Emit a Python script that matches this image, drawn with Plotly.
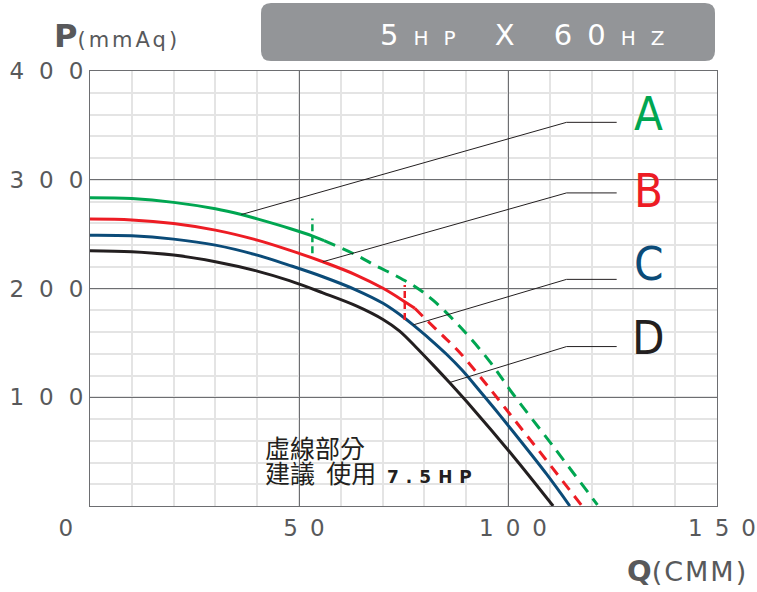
import plotly.graph_objects as go

# ---------------- data ----------------
a_solid_x = [0, 10, 20, 30, 36.2, 40, 47.8, 53.3, 56]
a_solid_y = [283.5, 282.7, 279.2, 273.3, 268, 264, 255.2, 248.2, 244]
a_dash_x = [56, 63.7, 68.5, 73.3, 77.9, 82.2, 89.2, 95.6, 101.2, 110.8, 121.4]
a_dash_y = [244, 230.7, 220.6, 211.5, 201.4, 188.8, 162, 133, 103, 54.9, 1]

b_solid_x = [0, 10, 20, 30, 40, 47.7, 55.7, 63.7, 70.1, 75.3, 77.7]
b_solid_y = [263.8, 263.1, 259.8, 253.7, 244.5, 235.3, 224.6, 212.4, 200.2, 187.9, 181.8]
b_dash_x = [77.7, 80, 84, 88, 95, 102, 109, 117.5]
b_dash_y = [181.8, 173, 158, 143, 111, 77, 43, 1]

c_x = [0, 10, 20, 30, 40, 47.7, 55.7, 63.7, 70.1, 75.3, 77.3, 81.3, 85.3, 89, 93.2, 97, 101.2, 109.2, 114.8]
c_y = [249, 248.5, 245.4, 239.9, 230.7, 221.3, 210.8, 198.6, 186.4, 172.7, 166.5, 153.5, 139.5, 125, 106, 88.5, 68.5, 29.5, 0]

d_x = [0, 10, 20, 30, 40, 47.7, 55.7, 63.7, 70.1, 74, 78, 82, 86, 91.6, 101.2, 110.8]
d_y = [234.7, 233.8, 230.7, 224.6, 216, 207.2, 196, 184, 171.5, 161, 146, 130, 113.5, 89.5, 46, 0]

# 7.5HP boundary markers (x, y_low, y_high)
mark_a = (53.2, 232.3, 264.4)
mark_b = (75.3, 171.1, 203.2)

# leader lines: start on curve -> kink -> end
lead_a = ([36.2, 114, 126], [268, 352.8, 352.8])
lead_b = ([55.7, 114, 126], [224.6, 287.9, 287.9])
lead_c = ([77.3, 114, 126], [166.5, 208.4, 208.4])
lead_d = ([86.0, 114, 126], [113.5, 146.6, 146.6])

curve_labels = ["A", "B", "C", "D"]
label_x = 133.7
label_y = [361, 290.4, 223.4, 154.6]

x_tickvals = [0, 50, 100, 150]
x_ticklabels = ["0", "50", "100", "150"]
y_tickvals = [100, 200, 300, 400]
y_ticklabels = ["100", "200", "300", "400"]

note_line1 = "虛線部分"
note_line2a = "建議"
note_line2b = "使用"
note_hp = "7.5HP"

# ---------------- styles ----------------
GREEN = "#00a651"
RED = "#ed1c24"
BLUE = "#0b4b78"
BLACK = "#231f20"
GRAY = "#58595b"
NUMFONT = "DejaVu Sans"
CONDFONT = "Liberation Sans Narrow, DejaVu Sans Condensed, Liberation Sans, sans-serif"

W, H = 757, 592
ML, MR, MT, MB = 90, 40, 71, 86
PW, PH = W - ML - MR, H - MT - MB


def px_x(px):
    return (px - ML) / PW


def px_y(py):
    return (H - MB - py) / PH


def spaced(s, ls):
    # letter spacing between glyphs (not after the last one)
    if len(s) < 2:
        return s
    return f"<span style='letter-spacing:{ls}px'>{s[:-1]}</span>{s[-1]}"


fig = go.Figure()

line_w = 3
sm = 1.0
fig.add_trace(go.Scatter(x=a_solid_x, y=a_solid_y, mode="lines",
                         line=dict(color=GREEN, width=line_w, shape="spline", smoothing=sm)))
fig.add_trace(go.Scatter(x=a_dash_x, y=a_dash_y, mode="lines",
                         line=dict(color=GREEN, width=line_w, shape="spline", smoothing=sm, dash="12px,8px")))
fig.add_trace(go.Scatter(x=b_solid_x, y=b_solid_y, mode="lines",
                         line=dict(color=RED, width=line_w, shape="spline", smoothing=sm)))
fig.add_trace(go.Scatter(x=b_dash_x, y=b_dash_y, mode="lines",
                         line=dict(color=RED, width=line_w, shape="spline", smoothing=sm, dash="11px,8px")))
fig.add_trace(go.Scatter(x=c_x, y=c_y, mode="lines",
                         line=dict(color=BLUE, width=line_w, shape="spline", smoothing=sm)))
fig.add_trace(go.Scatter(x=d_x, y=d_y, mode="lines",
                         line=dict(color=BLACK, width=line_w, shape="spline", smoothing=sm)))

for (mx, y0, y1), col in [(mark_a, GREEN), (mark_b, RED)]:
    fig.add_trace(go.Scatter(x=[mx, mx], y=[y0, y1], mode="lines",
                             line=dict(color=col, width=2.5, dash="7px,4px")))

for lx, ly in [lead_a, lead_b, lead_c, lead_d]:
    fig.add_trace(go.Scatter(x=lx, y=ly, mode="lines", line=dict(color=BLACK, width=1)))

for t, yy, col in zip(curve_labels, label_y, [GREEN, RED, BLUE, BLACK]):
    fig.add_annotation(x=label_x, y=yy, text=t, showarrow=False,
                       font=dict(family=CONDFONT, size=47, color=col))

# note text
fig.add_annotation(x=px_x(263), y=px_y(447), xref="paper", yref="paper", text=note_line1,
                   showarrow=False, xanchor="left", yanchor="middle",
                   font=dict(family="Noto Sans CJK TC", size=25, color=BLACK))
fig.add_annotation(x=px_x(263), y=px_y(472), xref="paper", yref="paper",
                   text=note_line2a + "\u00a0\u00a0" + note_line2b
                   + "<span style='font-family:DejaVu Sans;font-size:17px'>\u00a0\u00a0<b>"
                   + spaced(note_hp, 7) + "</b></span>",
                   showarrow=False, xanchor="left", yanchor="middle",
                   font=dict(family="Noto Sans CJK TC", size=25, color=BLACK))

# title box (rounded)
bx0, bx1, by0, by1, r = 261, 715, 3, 61, 10
path = (f"M {px_x(bx0 + r)},{px_y(by0)} L {px_x(bx1 - r)},{px_y(by0)} "
        f"Q {px_x(bx1)},{px_y(by0)} {px_x(bx1)},{px_y(by0 + r)} "
        f"L {px_x(bx1)},{px_y(by1 - r)} Q {px_x(bx1)},{px_y(by1)} {px_x(bx1 - r)},{px_y(by1)} "
        f"L {px_x(bx0 + r)},{px_y(by1)} Q {px_x(bx0)},{px_y(by1)} {px_x(bx0)},{px_y(by1 - r)} "
        f"L {px_x(bx0)},{px_y(by0 + r)} Q {px_x(bx0)},{px_y(by0)} {px_x(bx0 + r)},{px_y(by0)} Z")
fig.add_shape(type="path", path=path, xref="paper", yref="paper",
              fillcolor="#939598", line=dict(width=0), layer="above")

big, small, L = 29, 20, 15
tt = (f"<span style='letter-spacing:{L}px'>5</span>"
      f"<span style='font-size:{small}px;letter-spacing:{L}px'>HP</span>"
      f"<span style='letter-spacing:{L}px'>\u00a0X\u00a060</span>"
      f"<span style='font-size:{small}px'><span style='letter-spacing:{L}px'>H</span>Z</span>")
fig.add_annotation(x=px_x(522), y=px_y(35), xref="paper", yref="paper", text=tt,
                   showarrow=False, xanchor="center", yanchor="middle",
                   font=dict(family=NUMFONT, size=big, color="white"))

# axis titles
fig.add_annotation(x=px_x(52), y=px_y(36), xref="paper", yref="paper",
                   text="<b>P</b><span style='font-family:DejaVu Sans;font-size:21px'>"
                   + spaced("(mmAq)", 3) + "</span>",
                   showarrow=False, xanchor="left", yanchor="middle",
                   font=dict(family=NUMFONT, size=32, color=GRAY))
fig.add_annotation(x=px_x(625), y=px_y(571), xref="paper", yref="paper",
                   text="<b>Q</b><span style='font-family:DejaVu Sans;font-size:27px'>"
                   + spaced("(CMM)", 2) + "</span>",
                   showarrow=False, xanchor="left", yanchor="middle",
                   font=dict(family=NUMFONT, size=29, color=GRAY))

TL = 12
x_text = [spaced(t, TL) for t in x_ticklabels]
x_text[0] = x_text[0] + "\u00a0" * 8
y_text = [spaced(t, 15) for t in y_ticklabels]

fig.update_xaxes(range=[0, 150], tickmode="array", tickvals=x_tickvals, ticktext=x_text,
                 showgrid=True, gridcolor="#6d6e71", gridwidth=1,
                 minor=dict(tick0=0, dtick=10, showgrid=True, gridcolor="#e4e4e4", gridwidth=1.5),
                 showline=True, mirror=True, linecolor="#6d6e71", linewidth=1, zeroline=False,
                 ticks="", ticklabelstandoff=1, ticklabelshift=5, ticklabeloverflow="allow",
                 automargin=False,
                 tickfont=dict(family=NUMFONT, size=23, color=GRAY))
fig.update_yaxes(range=[0, 400], tickmode="array", tickvals=y_tickvals, ticktext=y_text,
                 showgrid=True, gridcolor="#6d6e71", gridwidth=1,
                 minor=dict(tick0=0, dtick=20, showgrid=True, gridcolor="#e4e4e4", gridwidth=1.5),
                 showline=True, mirror=True, linecolor="#6d6e71", linewidth=1, zeroline=False,
                 ticks="", ticklabelstandoff=1, ticklabelshift=0, ticklabeloverflow="allow",
                 automargin=False,
                 tickfont=dict(family=NUMFONT, size=23, color=GRAY))

fig.update_layout(width=W, height=H, margin=dict(l=ML, r=MR, t=MT, b=MB, autoexpand=False),
                  plot_bgcolor="white", paper_bgcolor="white", showlegend=False)

fig.write_html("out.html", config={"displayModeBar": False},
               post_script="document.body.style.margin='0';document.body.style.overflow='hidden';")
